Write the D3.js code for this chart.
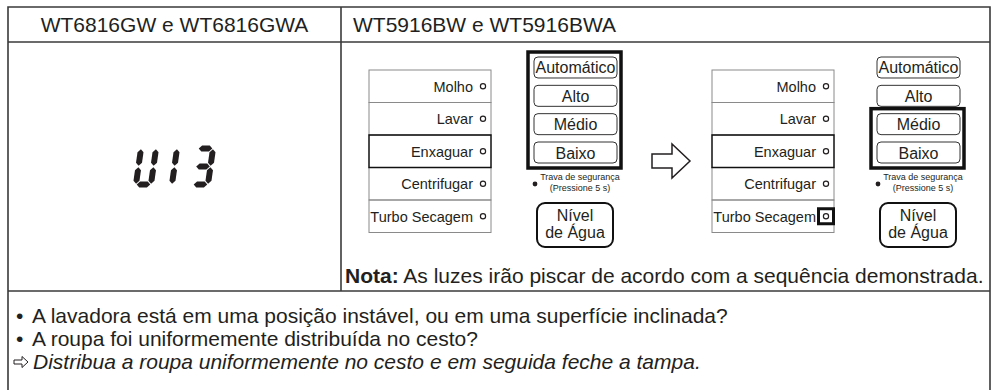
<!DOCTYPE html>
<html><head><meta charset="utf-8">
<script src="https://cdn.jsdelivr.net/npm/d3@7"></script>
<style>
html,body{margin:0;padding:0;background:#fff}
svg{display:block}
text{font-family:"Liberation Sans",Arial,Helvetica,sans-serif;fill:#231f20}
</style>
</head><body>
<svg id="c" width="991" height="390"></svg>
<script>
// ---- content ----
const headers = ["WT6816GW e WT6816GWA", "WT5916BW e WT5916BWA"];
const errorCode = ["U", "1", "3"];
const segmentMap = { "U": "bcdef", "1": "bc", "3": "abcdg" };
const cycleButtons = ["Molho", "Lavar", "Enxaguar", "Centrifugar", "Turbo Secagem"];
const activeCycle = "Enxaguar";
const levelButtons = ["Automático", "Alto", "Médio", "Baixo"];
const panels = [0, 1];
const levelHighlight = [["Automático", "Alto", "Médio", "Baixo"], ["Médio", "Baixo"]];
const cycleHighlight = [null, "Turbo Secagem"];
const lockLabel = ["Trava de segurança", "(Pressione 5 s)"];
const waterLabel = ["Nível", "de Água"];
const noteBold = "Nota:";
const noteText = " As luzes irão piscar de acordo com a sequência demonstrada.";
const checks = ["A lavadora está em uma posição instável, ou em uma superfície inclinada?",
                "A roupa foi uniformemente distribuída no cesto?"];
const action = "Distribua a roupa uniformemente no cesto e em seguida feche a tampa.";

// ---- layout ----
const svg = d3.select("#c");
const W = 991, H = 390;
const L = 8, R = 990, T = 7, col = 341, headB = 42, rowB = 291;
const lineC = "#3a3a3a", ink = "#231f20";

// table frame
const frame = svg.append("g").attr("fill", "none").attr("stroke", lineC).attr("stroke-width", 1.6);
frame.append("path").attr("d", `M${L},${H + 5}V${T}H${R}V${H + 5}`);
frame.append("line").attr("x1", L).attr("x2", R).attr("y1", headB).attr("y2", headB);
frame.append("line").attr("x1", L).attr("x2", R).attr("y1", rowB).attr("y2", rowB);
frame.append("line").attr("x1", col).attr("x2", col).attr("y1", T).attr("y2", rowB);

// headers
svg.append("text").attr("x", (L + col) / 2).attr("y", 32).attr("text-anchor", "middle")
  .attr("font-size", 21).text(headers[0]);
svg.append("text").attr("x", 353).attr("y", 32).attr("font-size", 21).text(headers[1]);

// seven segment code
const dH = 42, dW = 21, t = 6, gap = 15, skew = -8;
const skewShift = dH * Math.tan(-skew * Math.PI / 180);
const widths = errorCode.map(c => c === "1" ? t : dW);
const total = d3.sum(widths) + gap * (widths.length - 1) + skewShift;
const dTop = (headB + rowB) / 2 - dH / 2;
let cx = (L + col) / 2 - total / 2 + skewShift;
function hSeg(x0, x1, y) { const h = t / 2; return [[x0, y], [x0 + h, y - h], [x1 - h, y - h], [x1, y], [x1 - h, y + h], [x0 + h, y + h]]; }
function vSeg(x, y0, y1) { const h = t / 2; return [[x, y0], [x + h, y0 + h], [x + h, y1 - h], [x, y1], [x - h, y1 - h], [x - h, y0 + h]]; }
function segPts(s, w) {
  const g = 0.7, xl = t / 2, xr = w - t / 2, yt = t / 2, ym = dH / 2, yb = dH - t / 2;
  switch (s) {
    case "a": return hSeg(xl + g, xr - g, yt);
    case "d": return hSeg(xl + g, xr - g, yb);
    case "g": return hSeg(xl + g, xr - g, ym);
    case "b": return vSeg(xr, yt + g, ym - g);
    case "c": return vSeg(xr, ym + g, yb - g);
    case "e": return vSeg(xl, ym + g, yb - g);
    case "f": return vSeg(xl, yt + g, ym - g);
  }
}
const code = svg.append("g");
errorCode.forEach((c, i) => {
  const w = widths[i];
  const dg = code.append("g").attr("transform", `translate(${cx},${dTop}) skewX(${skew})`);
  dg.selectAll("polygon").data(segmentMap[c].split("")).join("polygon")
    .attr("points", s => segPts(s, w).map(p => p.join(",")).join(" "))
    .attr("fill", ink);
  cx += w + gap;
});

// panels
const panelX = d3.scaleOrdinal().domain(panels).range([369, 712]);
const rowY = d3.scaleBand().domain(cycleButtons).range([70, 232.5]);
const lvlY = d3.scaleBand().domain(levelButtons).range([57, 163]).paddingInner(0.259);
const cycW = 122, lvlOff = 165, lvlW = 83;

panels.forEach(p => {
  const ox = panelX(p);
  const g = svg.append("g");
  // cycle buttons (inactive first)
  const order = cycleButtons.filter(d => d !== activeCycle).concat([activeCycle]);
  g.selectAll("rect.cyc").data(order).join("rect").attr("class", "cyc")
    .attr("x", ox).attr("y", d => rowY(d)).attr("width", cycW).attr("height", rowY.bandwidth())
    .attr("fill", "none")
    .attr("stroke", d => d === activeCycle ? "#111" : "#8a8a8a")
    .attr("stroke-width", d => d === activeCycle ? 1.5 : 1);
  g.selectAll("text.cyc").data(cycleButtons).join("text").attr("class", "cyc")
    .attr("x", ox + 104).attr("y", d => rowY(d) + rowY.bandwidth() / 2 + 5.5)
    .attr("text-anchor", "end").attr("font-size", 14.5).text(d => d);
  g.selectAll("circle.cyc").data(cycleButtons).join("circle").attr("class", "cyc")
    .attr("cx", ox + 114).attr("cy", d => rowY(d) + rowY.bandwidth() / 2).attr("r", 2.6)
    .attr("fill", "#fff").attr("stroke", ink).attr("stroke-width", 1.2);
  if (cycleHighlight[p]) {
    const cy = rowY(cycleHighlight[p]) + rowY.bandwidth() / 2;
    g.append("rect").attr("x", ox + 114 - 7.5).attr("y", cy - 7.5).attr("width", 15).attr("height", 15)
      .attr("fill", "none").attr("stroke", "#111").attr("stroke-width", 3);
  }
  // level buttons
  const lx = ox + lvlOff;
  g.selectAll("rect.lvl").data(levelButtons).join("rect").attr("class", "lvl")
    .attr("x", lx).attr("y", d => lvlY(d)).attr("width", lvlW).attr("height", lvlY.bandwidth())
    .attr("rx", 4).attr("fill", "none").attr("stroke", "#333").attr("stroke-width", 1);
  g.selectAll("text.lvl").data(levelButtons).join("text").attr("class", "lvl")
    .attr("x", lx + lvlW / 2).attr("y", d => lvlY(d) + lvlY.bandwidth() / 2 + 6)
    .attr("text-anchor", "middle").attr("font-size", 16).text(d => d);
  const hl = levelHighlight[p];
  const y0 = d3.min(hl, d => lvlY(d)) - 5, y1 = d3.max(hl, d => lvlY(d) + lvlY.bandwidth()) + 5;
  g.append("rect").attr("x", lx - 6).attr("y", y0).attr("width", lvlW + 10).attr("height", y1 - y0)
    .attr("fill", "none").attr("stroke", "#111").attr("stroke-width", 3.5);
  // lock
  g.append("circle").attr("cx", lx + 1).attr("cy", 184).attr("r", 2.4).attr("fill", ink);
  g.selectAll("text.lock").data(lockLabel).join("text").attr("class", "lock")
    .attr("x", lx + 46).attr("y", (d, i) => 180 + i * 11).attr("text-anchor", "middle")
    .attr("font-size", 9).text(d => d);
  // water level
  g.append("rect").attr("x", lx + 3).attr("y", 203).attr("width", 76).attr("height", 44)
    .attr("rx", 8).attr("fill", "none").attr("stroke", "#111").attr("stroke-width", 2);
  g.selectAll("text.water").data(waterLabel).join("text").attr("class", "water")
    .attr("x", lx + 41).attr("y", (d, i) => 221 + i * 17).attr("text-anchor", "middle")
    .attr("font-size", 16).text(d => d);
});

// big arrow between panels
svg.append("path").attr("d", "M652,154H672V144L690,161L672,178V168H652Z")
  .attr("fill", "#fff").attr("stroke", ink).attr("stroke-width", 1.5).attr("stroke-linejoin", "miter");

// note
const note = svg.append("text").attr("x", 345).attr("y", 283).attr("font-size", 21);
note.append("tspan").attr("font-weight", "bold").text(noteBold);
note.append("tspan").text(noteText);

// bullets
const lineY = d3.scalePoint().domain(d3.range(checks.length + 1)).range([323, 369]);
checks.forEach((c, i) => {
  svg.append("text").attr("x", 16).attr("y", lineY(i)).attr("font-size", 21).text("•");
  svg.append("text").attr("x", 32).attr("y", lineY(i)).attr("font-size", 21).text(c);
});
const ay = lineY(checks.length) - 7;
svg.append("path").attr("d", `M14,${ay - 2}H22V${ay - 5.5}L28,${ay}L22,${ay + 5.5}V${ay + 2}H14Z`)
  .attr("fill", "#fff").attr("stroke", ink).attr("stroke-width", 1);
svg.append("text").attr("x", 33).attr("y", lineY(checks.length)).attr("font-size", 21)
  .attr("font-style", "italic").text(action);
</script>
</body></html>
